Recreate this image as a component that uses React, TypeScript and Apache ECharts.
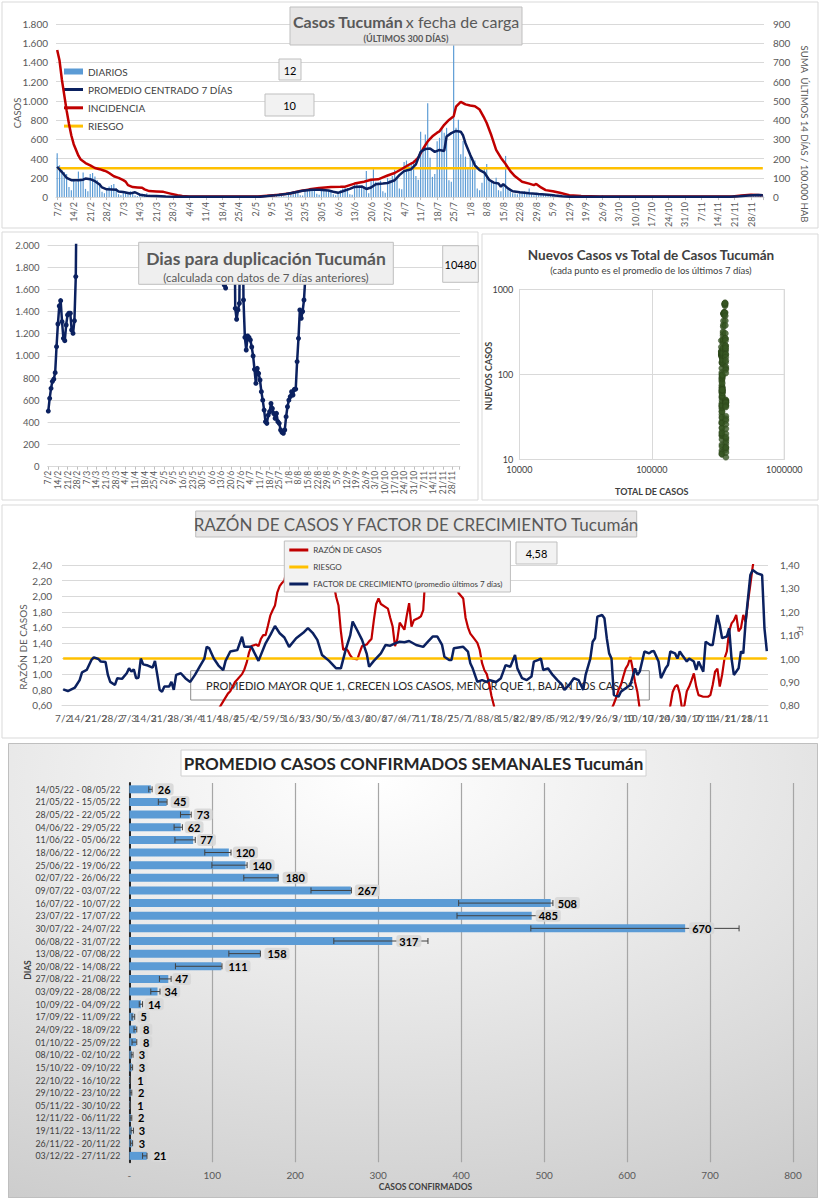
import React, { useEffect, useRef } from "react";
import * as echarts from "echarts";

if (typeof document !== "undefined") document.body.style.margin = "0";

const FONT = "Lato, 'Liberation Sans', Arial, sans-serif";

function buildDayLabels(n: number): string[] {
  const out: string[] = [];
  for (let i = 0; i < n; i++) {
    const dt = new Date(Date.UTC(2022, 1, 7 + i));
    out.push(dt.getUTCDate() + "/" + (dt.getUTCMonth() + 1));
  }
  return out;
}
const DAYS = buildDayLabels(300);
const WEEKLY_LABEL_STEP = 7;

// ---------- Chart 1: daily cases ----------
const DIARIOS = [
  455, 330, 285, 260, 240, 105, 70,
  175, 160, 265, 175, 255, 85, 60,
  240, 250, 215, 175, 145, 55, 40,
  85, 110, 125, 135, 95, 30, 20,
  60, 55, 50, 60, 45, 15, 10,
  40, 35, 30, 40, 25, 8, 6,
  20, 18, 15, 12, 10, 3, 2,
  8, 7, 6, 5, 4, 1, 1,
  4, 3, 3, 2, 3, 0, 1,
  3, 2, 3, 2, 2, 1, 0,
  2, 3, 2, 2, 3, 0, 1,
  3, 2, 4, 3, 2, 1, 1,
  6, 8, 10, 9, 12, 3, 2,
  20, 25, 28, 30, 26, 8, 6,
  40, 50, 60, 65, 55, 20, 15,
  80, 85, 95, 90, 80, 35, 25,
  85, 80, 75, 70, 65, 30, 20,
  50, 70, 90, 100, 95, 30, 25,
  140, 150, 120, 115, 110, 270, 40,
  180, 290, 160, 155, 170, 60, 45,
  200, 180, 220, 285, 200, 90, 80,
  365, 380, 345, 360, 380, 220, 180,
  680, 500, 650, 975, 410, 210, 240,
  580, 616, 718, 668, 720, 175, 160,
  1580, 720, 803, 446, 582, 420, 300,
  446, 412, 380, 88, 71, 150, 300,
  344, 190, 173, 156, 200, 71, 60,
  120, 428, 78, 60, 40, 37, 30,
  50, 45, 60, 40, 88, 30, 20,
  45, 40, 35, 30, 25, 15, 10,
  25, 20, 15, 12, 10, 5, 4,
  8, 6, 5, 4, 4, 2, 1,
  4, 3, 3, 2, 3, 1, 1,
  20, 4, 3, 3, 2, 1, 0,
  3, 3, 2, 2, 3, 1, 1,
  2, 3, 2, 3, 2, 0, 1,
  2, 2, 3, 2, 2, 1, 0,
  3, 2, 2, 3, 2, 1, 1,
  2, 3, 2, 2, 3, 0, 1,
  3, 2, 3, 2, 2, 1, 1,
  4, 3, 4, 3, 3, 1, 2,
  6, 5, 7, 8, 6, 3, 2,
  18, 22, 25, 20, 25, 15,
];

const PROMEDIO_7D = [
  [0, 315], [2, 260], [4, 200], [6, 176], [9, 174], [11, 180], [12, 192], [14, 186], [16, 165],
  [18, 130], [19, 100], [21, 80], [23, 78], [25, 76], [26, 58], [28, 52], [31, 38], [33, 50],
  [35, 25], [38, 14], [42, 10], [46, 6], [50, 4], [56, 2], [70, 2], [86, 3], [89, 10], [93, 20],
  [97, 32], [101, 50], [104, 65], [108, 76], [111, 76], [115, 68], [117, 55], [119, 44], [121, 60],
  [124, 85], [126, 105], [129, 110], [131, 84], [133, 100], [135, 133], [138, 140], [140, 146],
  [143, 175], [145, 228], [147, 270], [150, 290], [152, 340], [154, 470], [156, 500], [158, 505],
  [160, 470], [162, 490], [164, 480], [165, 630], [167, 665], [169, 688], [171, 680], [172, 640],
  [173, 560], [175, 440], [177, 330], [179, 280], [181, 255], [183, 180], [185, 150], [187, 140],
  [188, 108], [189, 135], [191, 90], [193, 60], [196, 50], [200, 40], [204, 32], [208, 25],
  [211, 15], [214, 8], [217, 4], [222, 2], [260, 2], [285, 3], [289, 8], [293, 16], [297, 22], [299, 20],
];

const INCIDENCIA = [
  [0, 765], [1, 710], [2, 610], [3, 530], [4, 450], [5, 380], [6, 320], [7, 275], [8, 245], [9, 215],
  [10, 195], [12, 177], [14, 165], [16, 151], [18, 145], [20, 137], [21, 132], [22, 125], [24, 108],
  [26, 100], [28, 88], [29, 80], [30, 62], [32, 52], [34, 50], [36, 48], [37, 40], [39, 31], [42, 29],
  [45, 27], [48, 18], [51, 9], [53, 5], [56, 3], [85, 3], [89, 7], [94, 12], [99, 20], [103, 32],
  [107, 40], [111, 47], [116, 52], [120, 53], [122, 54], [126, 70], [130, 80], [133, 90], [136, 92],
  [138, 102], [140, 112], [143, 125], [146, 146], [149, 168], [151, 180], [153, 205], [155, 250],
  [157, 290], [159, 316], [161, 335], [162, 342], [164, 376], [166, 401], [168, 420], [169, 470],
  [171, 495], [173, 482], [175, 476], [177, 472], [179, 455], [181, 410], [182, 385], [184, 320],
  [186, 245], [188, 205], [190, 172], [192, 135], [194, 108], [197, 80], [200, 70], [202, 62],
  [203, 68], [205, 50], [207, 36], [210, 30], [213, 22], [217, 10], [222, 5], [230, 3], [286, 3],
  [290, 8], [294, 12], [299, 9],
];
const RIESGO_INCIDENCIA = 150;

// ---------- Chart 2: doubling days ----------
const DUP_SEG1 = [502, 617, 707, 770, 790, 848, 1083, 1287, 1450, 1498, 1308, 1158, 1137, 1278, 1369,
  1384, 1384, 1233, 1203, 1317, 1715, 3000];
const DUP_SEG2_START = 128;
const DUP_SEG2 = [1640, 1612, 3000, null, null, null, null, 3000, 1429, 1330, 1414, 1474, 3000, 3000,
  1504, 1167, 1053, 1179, 1167, 1143, 1080, 999, 878, 752, 887, 842, 782, 677, 600, 511, 406, 391,
  466, 496, 571, 526, 480, 436, 481, 406, 391, 331, 310, 301, 331, 451, 541, 600, 632, 677, 647,
  698, 700, 948, 1158, 1414, 1339, 1400, 1504, 1715, 3000];

// ---------- Chart 3: new vs total ----------
const TOTAL_BASE = 333000;

// ---------- Chart 4: ratio & growth factor ----------
const RAZON = [
  [0, 0.4], [20, 0.35], [40, 0.4], [60, 0.45], [66, 0.55], [68, 0.65], [70, 0.75], [71, 0.78],
  [73, 0.9], [74, 0.93], [76, 1.0], [77, 1.06], [78, 1.15], [79, 1.28], [80, 1.36], [82, 1.38],
  [83, 1.36], [84, 1.45], [85, 1.5], [86, 1.5], [87, 1.62], [88, 1.75], [89, 1.82], [90, 1.88],
  [91, 2.05], [92, 2.13], [93, 2.17], [94, 2.2], [95, 2.35], [96, 2.45], [100, 2.8], [110, 2.8],
  [113, 2.7], [114, 2.42], [115, 2.15], [116, 1.99], [117, 1.88], [118, 1.55], [119, 1.31],
  [120, 1.33], [121, 1.3], [122, 1.24], [123, 1.2], [125, 1.19], [126, 1.28], [127, 1.36],
  [129, 1.38], [130, 1.42], [131, 1.45], [132, 1.69], [133, 1.9], [134, 1.97], [135, 1.9],
  [137, 1.86], [138, 1.84], [139, 1.72], [140, 1.61], [141, 1.36], [142, 1.45], [143, 1.66],
  [145, 1.57], [146, 1.75], [147, 1.91], [148, 1.61], [149, 1.69], [151, 1.72], [152, 1.74],
  [153, 1.82], [154, 2.3], [155, 2.7], [160, 3.0], [166, 2.7], [167, 2.2], [168, 2.04], [170, 1.97],
  [171, 1.72], [172, 1.6], [173, 1.52], [174, 1.48], [176, 1.4], [177, 1.31], [178, 1.14],
  [179, 1.05], [180, 1.0], [181, 0.88], [182, 0.72], [183, 0.6], [184, 0.45], [190, 0.3],
  [230, 0.35], [233, 0.55], [234, 0.62], [235, 0.7], [236, 0.8], [237, 0.86], [238, 0.97],
  [239, 1.07], [240, 1.12], [241, 1.22], [242, 1.07], [243, 0.9], [244, 0.77], [245, 0.55],
  [250, 0.35], [257, 0.45], [258, 0.6], [259, 0.77], [260, 0.84], [261, 0.86], [262, 0.75],
  [263, 0.55], [264, 0.6], [265, 0.78], [266, 0.84], [267, 0.92], [268, 1.01], [269, 0.84],
  [270, 0.73], [272, 0.71], [274, 0.71], [275, 0.73], [276, 0.86], [277, 1.03], [278, 1.07],
  [279, 0.84], [280, 0.99], [281, 1.2], [282, 1.29], [283, 1.55], [284, 1.65], [285, 1.69],
  [286, 1.76], [287, 1.55], [288, 1.59], [289, 1.76], [290, 1.67], [291, 1.93], [292, 2.15],
  [293, 2.38], [294, 2.55],
];

const FACTOR = [
  [0, 0.868], [2, 0.861], [5, 0.876], [7, 0.908], [8, 0.941], [10, 0.951], [12, 0.994], [13, 1.005],
  [15, 0.998], [16, 0.987], [18, 0.985], [19, 0.93], [20, 0.9], [22, 0.887], [23, 0.916], [25, 0.913],
  [27, 0.937], [28, 0.958], [29, 0.944], [30, 0.954], [31, 0.916], [32, 0.918], [33, 1.0], [34, 0.975],
  [36, 0.97], [38, 0.961], [39, 0.99], [40, 0.93], [41, 0.866], [42, 0.858], [43, 0.88], [45, 0.88],
  [46, 0.9], [47, 0.866], [48, 0.93], [50, 0.937], [52, 0.915], [54, 0.9], [56, 0.93], [58, 0.965],
  [60, 1.0], [61, 1.05], [62, 1.045], [64, 1.0], [66, 0.97], [68, 0.95], [69, 0.99], [71, 1.03],
  [72, 1.032], [74, 1.036], [76, 1.093], [77, 1.05], [80, 1.05], [83, 0.99], [86, 1.065], [88, 1.1],
  [90, 1.139], [92, 1.108], [94, 1.09], [96, 1.05], [99, 1.087], [102, 1.11], [104, 1.13], [106, 1.11],
  [108, 1.08], [110, 1.015], [113, 0.99], [116, 0.958], [118, 0.958], [120, 1.036], [122, 1.1],
  [123, 1.158], [125, 1.12], [127, 1.08], [129, 1.02], [130, 0.965], [132, 0.99], [135, 1.022],
  [137, 1.058], [139, 1.055], [141, 1.065], [143, 1.072], [145, 1.07], [147, 1.075], [150, 1.058],
  [153, 1.05], [155, 1.072], [157, 1.094], [159, 1.094], [161, 1.058], [162, 1.008], [164, 0.994],
  [165, 0.994], [166, 1.044], [168, 1.047], [170, 1.05], [172, 1.03], [173, 0.98], [174, 0.958],
  [176, 0.9], [178, 0.908], [180, 0.9], [181, 0.908], [184, 0.9], [186, 0.916], [188, 0.972],
  [190, 0.965], [192, 1.015], [193, 0.958], [195, 0.916], [197, 0.908], [199, 0.923], [200, 0.987],
  [202, 0.994], [203, 1.0], [204, 0.951], [206, 0.958], [208, 0.93], [210, 0.908], [212, 0.887],
  [213, 0.866], [215, 0.887], [217, 0.916], [219, 0.908], [221, 0.866], [222, 0.93], [224, 1.0],
  [225, 1.072], [226, 1.087], [227, 1.179], [229, 1.186], [230, 1.172], [231, 1.087], [232, 1.022],
  [233, 1.0], [234, 0.844], [236, 0.837], [237, 0.858], [239, 0.873], [241, 0.887], [243, 0.958],
  [244, 0.93], [245, 0.944], [247, 1.03], [249, 1.022], [250, 1.03], [251, 1.032], [253, 0.987],
  [254, 0.916], [256, 0.958], [257, 0.972], [258, 1.03], [260, 1.022], [261, 1.0], [262, 1.03],
  [263, 1.015], [265, 0.987], [266, 1.0], [268, 0.987], [269, 0.951], [270, 0.987], [272, 0.944],
  [273, 1.072], [275, 1.058], [276, 1.058], [278, 1.186], [279, 1.143], [280, 1.087], [282, 1.094],
  [283, 1.129], [284, 1.0], [285, 0.93], [287, 0.958], [288, 1.03], [289, 1.022], [290, 1.158],
  [292, 1.357], [293, 1.379], [295, 1.364], [297, 1.357], [298, 1.129], [299, 1.032],
];
const RIESGO_RAZON = 1.2;

// ---------- Chart 5: weekly averages ----------
const WEEK_LABELS = [
  "14/05/22 - 08/05/22", "21/05/22 - 15/05/22", "28/05/22 - 22/05/22", "04/06/22 - 29/05/22",
  "11/06/22 - 05/06/22", "18/06/22 - 12/06/22", "25/06/22 - 19/06/22", "02/07/22 - 26/06/22",
  "09/07/22 - 03/07/22", "16/07/22 - 10/07/22", "23/07/22 - 17/07/22", "30/07/22 - 24/07/22",
  "06/08/22 - 31/07/22", "13/08/22 - 07/08/22", "20/08/22 - 14/08/22", "27/08/22 - 21/08/22",
  "03/09/22 - 28/08/22", "10/09/22 - 04/09/22", "17/09/22 - 11/09/22", "24/09/22 - 18/09/22",
  "01/10/22 - 25/09/22", "08/10/22 - 02/10/22", "15/10/22 - 09/10/22", "22/10/22 - 16/10/22",
  "29/10/22 - 23/10/22", "05/11/22 - 30/10/22", "12/11/22 - 06/11/22", "19/11/22 - 13/11/22",
  "26/11/22 - 20/11/22", "03/12/22 - 27/11/22",
];
const WEEK_AVG = [26, 45, 73, 62, 77, 120, 140, 180, 267, 508, 485, 670, 317, 158, 111, 47, 34, 14, 5, 8, 8, 3, 3, 1, 2, 1, 2, 3, 3, 21];
const WEEK_LOW = [23.5, 35, 61.7, 54, 55, 91, 99.6, 138, 219, 397, 395, 484, 246.5, 120, 55.6, 36.3, 25.9, 12, 3.3, 5.7, 3.3, 2.2, 1.5, 0.5, 1, 0.5, 1, 2, 1.5, 16];
const WEEK_HIGH = [27.5, 45.5, 74.6, 64, 79.5, 122.6, 142, 179.4, 267.7, 510.6, 516, 735, 360, 158, 111.7, 50.4, 37, 16, 6.5, 9, 9, 4.5, 4, 1.5, 3, 1.5, 3, 5, 4, 21.3];

// ---------- helpers ----------
const fmtMiles = (v: number) => {
  const s = String(Math.round(v));
  return s.length > 3 ? s.slice(0, -3) + "." + s.slice(-3) : s;
};
const fmtComa = (v: number) => v.toFixed(2).replace(".", ",");
const weeklyLabel = (v: string, i: number) => (i % WEEKLY_LABEL_STEP === 0 ? v : "");
const NAVY = "#0b2160";
const RED = "#c00000";
const ORANGE = "#ffc000";
const BLUE = "#5b9bd5";

const txt = (x: number, y: number, text: string, o: any = {}) => ({
  type: "text",
  x, y, z: o.z ?? 10,
  rotation: o.rotation ?? 0,
  silent: true,
  style: {
    text,
    fill: o.fill ?? "#595959",
    fontSize: o.fontSize ?? 11,
    fontWeight: o.fontWeight ?? "normal",
    fontFamily: FONT,
    align: o.align ?? "center",
    verticalAlign: "middle",
    rich: o.rich,
  },
});
const box = (x: number, y: number, w: number, h: number, fill: string, stroke: string, z = 10) => ({
  type: "rect", z, silent: true,
  shape: { x, y, width: w, height: h },
  style: { fill, stroke, lineWidth: 1 },
});
const frame = (x: number, y: number, w: number, h: number) => ({
  type: "rect", z: 0, silent: true,
  shape: { x, y, width: w, height: h },
  style: { fill: "none", stroke: "#d9d9d9", lineWidth: 1 },
});

// ---------- options ----------
const option1 = {
  animation: false,
  textStyle: { fontFamily: FONT },
  grid: { left: 56, top: 24, width: 708, height: 176 },
  legend: [
    {
      data: ["DIARIOS"], left: 64, top: 65.5, padding: 0, icon: "rect", itemWidth: 19, itemHeight: 6,
      selectedMode: false, textStyle: { fontSize: 10, color: "#404040", lineHeight: 12, fontFamily: FONT },
    },
    {
      data: ["PROMEDIO CENTRADO 7 DÍAS", "INCIDENCIA", "RIESGO"], orient: "vertical", left: 64, top: 83.5,
      padding: 0, icon: "rect", itemWidth: 19, itemHeight: 3, itemGap: 6.3, selectedMode: false,
      textStyle: { fontSize: 10, color: "#404040", lineHeight: 12, fontFamily: FONT },
    },
  ],
  xAxis: {
    type: "category", data: DAYS, boundaryGap: true,
    axisLine: { lineStyle: { color: "#d9d9d9" } },
    axisTick: { show: true, interval: 6, alignWithLabel: true, length: 3, lineStyle: { color: "#bfbfbf" } },
    axisLabel: { interval: 0, formatter: weeklyLabel, rotate: 90, fontSize: 9, color: "#595959", margin: 5, fontFamily: FONT },
  },
  yAxis: [
    {
      type: "value", min: 0, max: 1800, interval: 200,
      axisLabel: { formatter: fmtMiles, fontSize: 10, color: "#595959", margin: 8, fontFamily: FONT },
      splitLine: { lineStyle: { color: "#d9d9d9" } }, axisLine: { show: false }, axisTick: { show: false },
    },
    {
      type: "value", min: 0, max: 900, interval: 100, position: "right",
      axisLabel: { fontSize: 10, color: "#595959", margin: 9, fontFamily: FONT },
      splitLine: { show: false }, axisLine: { show: false }, axisTick: { show: false },
    },
  ],
  series: [
    { name: "DIARIOS", type: "bar", data: DIARIOS, barWidth: "50%", itemStyle: { color: BLUE }, z: 2 },
    {
      name: "RIESGO", type: "line", yAxisIndex: 1, data: [[0, RIESGO_INCIDENCIA], [DAYS.length - 1, RIESGO_INCIDENCIA]],
      symbol: "none", color: ORANGE, lineStyle: { width: 2.5, color: ORANGE }, itemStyle: { color: ORANGE }, z: 3,
    },
    {
      name: "INCIDENCIA", type: "line", yAxisIndex: 1, data: INCIDENCIA, symbol: "none", color: RED,
      lineStyle: { width: 2.5, color: RED }, itemStyle: { color: RED }, z: 4,
    },
    {
      name: "PROMEDIO CENTRADO 7 DÍAS", type: "line", data: PROMEDIO_7D, symbol: "none", color: NAVY,
      lineStyle: { width: 2.5, color: NAVY }, itemStyle: { color: NAVY }, z: 5,
    },
  ],
  graphic: [
    frame(2, 2, 816, 226),
    box(290, 7, 232, 38, "#e7e6e6", "#bfbfbf"),
    txt(406, 21, "{a|Casos Tucumán} {b|x fecha de carga}", {
      rich: {
        a: { fontSize: 16, fontWeight: "bold", fill: "#595959", fontFamily: FONT },
        b: { fontSize: 16, fill: "#595959", fontFamily: FONT },
      },
    }),
    txt(406, 38, "(ÚLTIMOS 300 DÍAS)", { fontSize: 9, fontWeight: "bold" }),
    box(279, 59, 22, 21, "#f2f2f2", "#bfbfbf"),
    txt(290, 70, "12", { fontSize: 11, fill: "#000" }),
    box(265, 94, 49, 22, "#f2f2f2", "#bfbfbf"),
    txt(289.5, 105, "10", { fontSize: 11, fill: "#000" }),
    txt(17, 113, "CASOS", { fontSize: 9.5, rotation: Math.PI / 2 }),
    txt(804, 134, "SUMA  ÚLTIMOS 14 DÍAS / 100.000 HAB", { fontSize: 9.5, rotation: -Math.PI / 2 }),
  ],
};

const DUPLICACION = DAYS.map((_, i) => {
  if (i < DUP_SEG1.length) return DUP_SEG1[i];
  const j = i - DUP_SEG2_START;
  if (j >= 0 && j < DUP_SEG2.length) return DUP_SEG2[j];
  return null;
});

const option2 = {
  animation: false,
  textStyle: { fontFamily: FONT },
  grid: { left: 47.6, top: 15, width: 412.4, height: 221.7 },
  xAxis: {
    type: "category", data: DAYS, boundaryGap: true,
    axisLine: { lineStyle: { color: "#d9d9d9" } },
    axisTick: { show: true, interval: 6, alignWithLabel: true, length: 3, lineStyle: { color: "#bfbfbf" } },
    axisLabel: { interval: 0, formatter: weeklyLabel, rotate: 90, fontSize: 8.5, color: "#595959", margin: 4, fontFamily: FONT },
  },
  yAxis: {
    type: "value", min: 0, max: 2000, interval: 200,
    axisLabel: { formatter: fmtMiles, fontSize: 9.5, color: "#595959", margin: 8, fontFamily: FONT },
    splitLine: { lineStyle: { color: "#d9d9d9" } }, axisLine: { show: false }, axisTick: { show: false },
  },
  series: [
    {
      type: "line", data: DUPLICACION, connectNulls: false, symbol: "circle", symbolSize: 5, clip: true,
      lineStyle: { width: 2.5, color: NAVY }, itemStyle: { color: NAVY }, z: 3,
    },
  ],
  graphic: [
    frame(2, 2, 476, 268),
    box(138.7, 12.3, 254.6, 42, "#efefef", "#bfbfbf"),
    txt(266, 28, "Dias para duplicación Tucumán", { fontSize: 17.5, fontWeight: "bold" }),
    txt(266, 47, "(calculada con datos de 7 días anteriores)", { fontSize: 11.5 }),
    box(442.7, 15.7, 35.6, 36.6, "#f2f2f2", "#bfbfbf"),
    txt(460.5, 34, "10480", { fontSize: 11, fill: "#000" }),
  ],
};

const SCATTER = (() => {
  const pts: number[][] = [];
  let total = TOTAL_BASE;
  for (let i = 0; i < DIARIOS.length; i++) {
    total += DIARIOS[i];
    if (i >= 6) {
      let s = 0;
      for (let k = i - 6; k <= i; k++) s += DIARIOS[k];
      const avg = s / 7;
      if (avg > 0) pts.push([total, avg]);
    }
  }
  return pts;
})();

const option3 = {
  animation: false,
  textStyle: { fontFamily: FONT },
  grid: { left: 39.3, top: 57.3, width: 265, height: 170 },
  xAxis: {
    type: "log", logBase: 10, min: 10000, max: 1000000,
    axisLabel: { formatter: (v: number) => String(Math.round(v)), fontSize: 9, color: "#404040", margin: 6, fontFamily: FONT },
    splitLine: { show: true, lineStyle: { color: "#d9d9d9" } },
    axisLine: { lineStyle: { color: "#d9d9d9" } }, axisTick: { show: false },
    minorTick: { show: false },
    name: "TOTAL DE CASOS", nameLocation: "middle", nameGap: 28,
    nameTextStyle: { fontSize: 9, fontWeight: "bold", color: "#404040", fontFamily: FONT },
  },
  yAxis: {
    type: "log", logBase: 10, min: 10, max: 1000,
    axisLabel: { formatter: (v: number) => String(Math.round(v)), fontSize: 9, color: "#404040", margin: 6, fontFamily: FONT },
    splitLine: { show: true, lineStyle: { color: "#d9d9d9" } },
    axisLine: { show: true, lineStyle: { color: "#d9d9d9" } }, axisTick: { show: false },
  },
  series: [
    {
      type: "scatter", data: SCATTER, symbolSize: 6, clip: true,
      itemStyle: { color: "#375623", borderColor: "#2a4319", borderWidth: 0.5 },
    },
  ],
  graphic: [
    frame(2, 2, 336, 266),
    { type: "rect", z: 1, silent: true, shape: { x: 304.3, y: 57.3, width: 0, height: 170 }, style: { fill: "none", stroke: "#d9d9d9" } },
    txt(171, 23, "Nuevos Casos vs Total de Casos Tucumán", { fontSize: 13.5, fontWeight: "bold", fill: "#404040" }),
    txt(171, 38.5, "(cada punto es el promedio de los últimos 7 días)", { fontSize: 9.5, fill: "#404040" }),
    txt(8, 144, "NUEVOS CASOS", { fontSize: 9, fontWeight: "bold", fill: "#404040", rotation: Math.PI / 2 }),
  ],
};

const option4 = {
  animation: false,
  textStyle: { fontFamily: FONT },
  grid: { left: 62, top: 62, width: 706, height: 140.3 },
  legend: {
    data: ["RAZÓN DE CASOS", "RIESGO", "FACTOR DE CRECIMIENTO (promedio últimos 7 días)"],
    orient: "vertical", left: 284.3, top: 38, padding: [3, 8, 2, 5], itemGap: 5,
    icon: "rect", itemWidth: 19, itemHeight: 3, selectedMode: false,
    backgroundColor: "#f2f2f2", borderColor: "#bfbfbf", borderWidth: 1,
    textStyle: { fontSize: 8, color: "#404040", lineHeight: 12, fontFamily: FONT },
  },
  xAxis: {
    type: "category", data: DAYS, boundaryGap: true,
    axisLine: { lineStyle: { color: "#d9d9d9" } }, axisTick: { show: false },
    axisLabel: { interval: 0, formatter: weeklyLabel, fontSize: 10, color: "#595959", margin: 8, fontFamily: FONT },
  },
  yAxis: [
    {
      type: "value", min: 0.6, max: 2.4, interval: 0.2,
      axisLabel: { formatter: fmtComa, fontSize: 10, color: "#595959", margin: 10, fontFamily: FONT },
      splitLine: { lineStyle: { color: "#d9d9d9" } }, axisLine: { show: false }, axisTick: { show: false },
    },
    {
      type: "value", min: 0.8, max: 1.4, interval: 0.1, position: "right",
      axisLabel: { formatter: fmtComa, fontSize: 10, color: "#595959", margin: 12, fontFamily: FONT },
      splitLine: { show: false }, axisLine: { show: false }, axisTick: { show: false },
    },
  ],
  series: [
    {
      name: "RAZÓN DE CASOS", type: "line", data: RAZON, symbol: "none", clip: true, color: RED,
      lineStyle: { width: 2.2, color: RED }, itemStyle: { color: RED }, z: 3,
    },
    {
      name: "RIESGO", type: "line", data: [[0, RIESGO_RAZON], [DAYS.length - 1, RIESGO_RAZON]], symbol: "none",
      color: ORANGE, lineStyle: { width: 2.5, color: ORANGE }, itemStyle: { color: ORANGE }, z: 3,
    },
    {
      name: "FACTOR DE CRECIMIENTO (promedio últimos 7 días)", type: "line", yAxisIndex: 1, data: FACTOR,
      symbol: "none", clip: true, color: NAVY, lineStyle: { width: 2.5, color: NAVY }, itemStyle: { color: NAVY }, z: 4,
    },
  ],
  graphic: [
    frame(2, 2, 816, 233),
    box(195.7, 8, 441, 26, "#e7e6e6", "#bfbfbf"),
    txt(416, 21, "RAZÓN DE CASOS Y FACTOR DE CRECIMIENTO Tucumán", { fontSize: 17 }),
    box(516, 39, 41, 22, "#f2f2f2", "#bfbfbf"),
    txt(536.5, 50, "4,58", { fontSize: 11, fill: "#000" }),
    box(190.7, 167.7, 458.6, 29.3, "rgba(255,255,255,0)", "#8c8c8c", 1),
    txt(420, 182.3, "PROMEDIO MAYOR QUE 1, CRECEN LOS CASOS, MENOR QUE 1, BAJAN LOS CASOS", { fontSize: 11, fill: "#262626", z: 1 }),
    txt(23, 144, "RAZÓN DE CASOS", { fontSize: 10, rotation: Math.PI / 2 }),
    txt(800, 128, "FC", { fontSize: 8, rotation: -Math.PI / 2 }),
  ],
};

const option5 = {
  animation: false,
  textStyle: { fontFamily: FONT },
  backgroundColor: {
    type: "radial", x: 0.45, y: 0.08, r: 1.3,
    colorStops: [{ offset: 0, color: "#ffffff" }, { offset: 1, color: "#bfbfbf" }],
  },
  grid: { left: 121.3, top: 40, width: 663.7, height: 379.2 },
  xAxis: {
    type: "value", min: 0, max: 800, interval: 100,
    axisLabel: { formatter: (v: number) => (v === 0 ? "-" : String(v)), fontSize: 10, color: "#595959", margin: 8, fontFamily: FONT },
    splitLine: { lineStyle: { color: "#a6a6a6", width: 1.2 } },
    axisLine: { show: false }, axisTick: { show: false },
  },
  yAxis: {
    type: "category", data: WEEK_LABELS, inverse: true,
    axisLine: { show: true, lineStyle: { color: "#262626", width: 2 } }, axisTick: { show: false },
    axisLabel: { interval: 0, fontSize: 8.8, color: "#404040", margin: 9, fontFamily: FONT },
  },
  series: [
    { type: "bar", data: WEEK_AVG, barWidth: 8, barGap: "-100%", itemStyle: { color: BLUE }, z: 2 },
    {
      type: "custom", z: 3,
      data: WEEK_LOW.map((lo, i) => [lo, WEEK_HIGH[i], i]),
      encode: { x: [0, 1], y: 2 },
      renderItem: (params: any, api: any) => {
        const c = api.value(2);
        const p1 = api.coord([api.value(0), c]);
        const p2 = api.coord([api.value(1), c]);
        const st = { stroke: "#404040", lineWidth: 1 };
        return {
          type: "group",
          children: [
            { type: "line", shape: { x1: p1[0], y1: p1[1], x2: p2[0], y2: p2[1] }, style: st },
            { type: "line", shape: { x1: p1[0], y1: p1[1] - 3, x2: p1[0], y2: p1[1] + 3 }, style: st },
            { type: "line", shape: { x1: p2[0], y1: p2[1] - 3, x2: p2[0], y2: p2[1] + 3 }, style: st },
          ],
        };
      },
    },
    {
      type: "bar", data: WEEK_AVG, barWidth: 8, barGap: "-100%", z: 4,
      itemStyle: { color: "rgba(0,0,0,0)" },
      label: {
        show: true, position: "right", distance: 4, fontSize: 11, fontWeight: "bold", color: "#000",
        fontFamily: FONT, backgroundColor: "rgba(215,215,215,0.9)", borderRadius: 3, padding: [1, 3, 0, 3],
      },
    },
  ],
  graphic: [
    { type: "rect", z: 0, silent: true, shape: { x: 0.5, y: 0.5, width: 809, height: 454 }, style: { fill: "none", stroke: "#bfbfbf", lineWidth: 1 } },
    box(173, 7, 465, 26, "#ffffff", "#d0d0d0"),
    txt(405.5, 20, "PROMEDIO CASOS CONFIRMADOS SEMANALES Tucumán", { fontSize: 17, fontWeight: "bold", fill: "#262626" }),
    txt(417.5, 444, "CASOS CONFIRMADOS", { fontSize: 8.5, fontWeight: "bold", fill: "#404040" }),
    txt(20, 227, "DIAS", { fontSize: 8.5, fontWeight: "bold", fill: "#404040", rotation: Math.PI / 2 }),
  ],
};

function EChart({ left, top, width, height, option }: any) {
  const ref = useRef<HTMLDivElement>(null);
  useEffect(() => {
    const chart = echarts.init(ref.current as HTMLDivElement, undefined, { renderer: "svg" });
    chart.setOption(option);
    return () => chart.dispose();
  }, [option]);
  return <div ref={ref} style={{ position: "absolute", left, top, width, height }} />;
}

export default function App() {
  return (
    <div style={{ position: "relative", width: 820, height: 1200, background: "#ffffff", overflow: "hidden" }}>
      <EChart left={0} top={0} width={820} height={230} option={option1} />
      <EChart left={0} top={230} width={480} height={272} option={option2} />
      <EChart left={480} top={232} width={340} height={270} option={option3} />
      <EChart left={0} top={503} width={820} height={237} option={option4} />
      <EChart left={8} top={743} width={810} height={455} option={option5} />
    </div>
  );
}
